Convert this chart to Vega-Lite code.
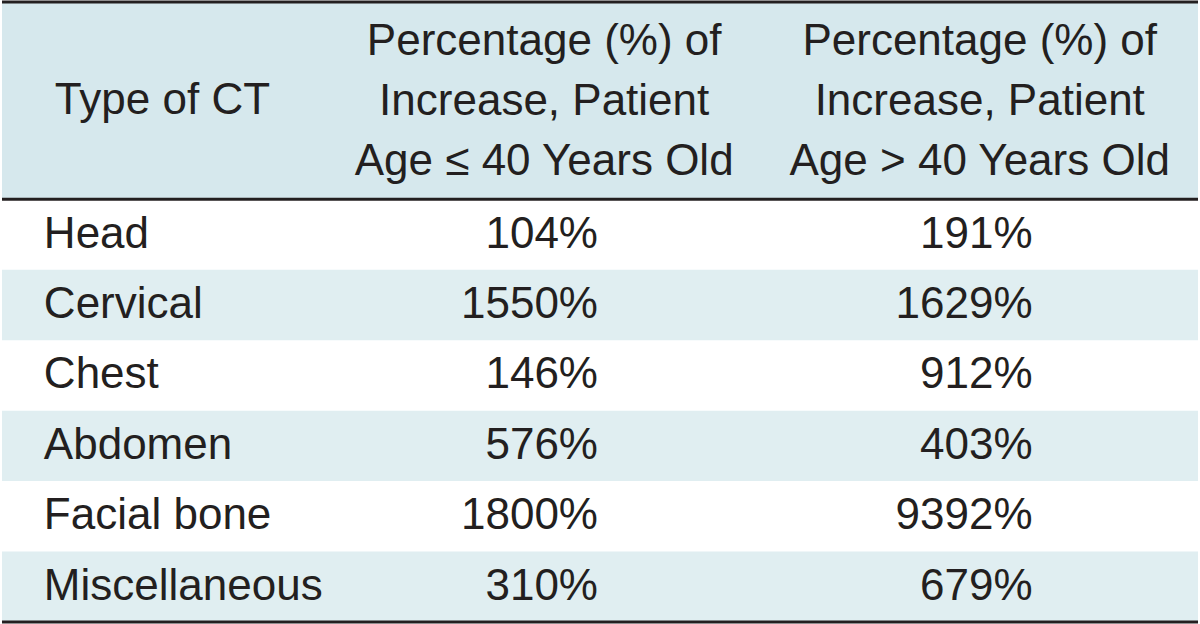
{
  "$schema": "https://vega.github.io/schema/vega-lite/v6.json",
  "width": 1200,
  "height": 624,
  "autosize": {"type": "fit", "contains": "padding"},
  "padding": 0,
  "background": "white",
  "config": {"view": {"stroke": null}, "text": {"font": "Liberation Sans", "fontSize": 44, "color": "#231f20"}},
  "datasets": {
    "rows": [
      {"row": 0, "type": "Head", "young": "104%", "old": "191%"},
      {"row": 1, "type": "Cervical", "young": "1550%", "old": "1629%"},
      {"row": 2, "type": "Chest", "young": "146%", "old": "912%"},
      {"row": 3, "type": "Abdomen", "young": "576%", "old": "403%"},
      {"row": 4, "type": "Facial bone", "young": "1800%", "old": "9392%"},
      {"row": 5, "type": "Miscellaneous", "young": "310%", "old": "679%"}
    ],
    "header": [
      {"col": 544, "label": "Percentage (%) of\nIncrease, Patient\nAge ≤ 40 Years Old"},
      {"col": 981, "label": "Percentage (%) of\nIncrease, Patient\nAge > 40 Years Old"}
    ]
  },
  "layer": [
    {
      "data": {"values": [{"y0": -2.8, "y1": 0}]},
      "mark": {"type": "rect", "color": "#d6e8ed"},
      "encoding": {
        "x": {"datum": 0, "type": "quantitative", "scale": {"domain": [0, 1200], "nice": false, "zero": false}, "axis": null},
        "x2": {"datum": 1200},
        "y": {"field": "y0", "type": "quantitative", "scale": {"domain": [-2.8, 6], "reverse": true, "nice": false, "zero": false}, "axis": null},
        "y2": {"field": "y1"}
      }
    },
    {
      "data": {"name": "rows"},
      "transform": [{"filter": "datum.row % 2 == 1"}, {"calculate": "datum.row + 1", "as": "rowEnd"}],
      "mark": {"type": "rect", "color": "#e0eef1"},
      "encoding": {
        "x": {"datum": 0, "type": "quantitative"},
        "x2": {"datum": 1200},
        "y": {"field": "row", "type": "quantitative"},
        "y2": {"field": "rowEnd"}
      }
    },
    {
      "data": {"values": [{"pos": -2.8}, {"pos": 0}, {"pos": 6}]},
      "mark": {"type": "rule", "color": "#231f20", "strokeWidth": 3},
      "encoding": {
        "x": {"datum": 0, "type": "quantitative"},
        "x2": {"datum": 1200},
        "y": {"field": "pos", "type": "quantitative"}
      }
    },
    {
      "data": {"values": [{"label": "Type of CT"}]},
      "mark": {"type": "text", "align": "center", "baseline": "middle"},
      "encoding": {
        "x": {"datum": 161, "type": "quantitative"},
        "y": {"datum": -1.4, "type": "quantitative"},
        "text": {"field": "label"}
      }
    },
    {
      "data": {"name": "header"},
      "mark": {"type": "text", "align": "center", "baseline": "middle", "lineBreak": "\n", "lineHeight": 60},
      "encoding": {
        "x": {"field": "col", "type": "quantitative"},
        "y": {"datum": -2.23, "type": "quantitative"},
        "text": {"field": "label"}
      }
    },
    {
      "data": {"name": "rows"},
      "transform": [{"calculate": "datum.row + 0.5", "as": "mid"}],
      "mark": {"type": "text", "align": "left", "baseline": "middle"},
      "encoding": {
        "x": {"datum": 42, "type": "quantitative"},
        "y": {"field": "mid", "type": "quantitative"},
        "text": {"field": "type"}
      }
    },
    {
      "data": {"name": "rows"},
      "transform": [{"calculate": "datum.row + 0.5", "as": "mid"}],
      "mark": {"type": "text", "align": "right", "baseline": "middle"},
      "encoding": {
        "x": {"datum": 598, "type": "quantitative"},
        "y": {"field": "mid", "type": "quantitative"},
        "text": {"field": "young"}
      }
    },
    {
      "data": {"name": "rows"},
      "transform": [{"calculate": "datum.row + 0.5", "as": "mid"}],
      "mark": {"type": "text", "align": "right", "baseline": "middle"},
      "encoding": {
        "x": {"datum": 1034, "type": "quantitative"},
        "y": {"field": "mid", "type": "quantitative"},
        "text": {"field": "old"}
      }
    }
  ]
}
